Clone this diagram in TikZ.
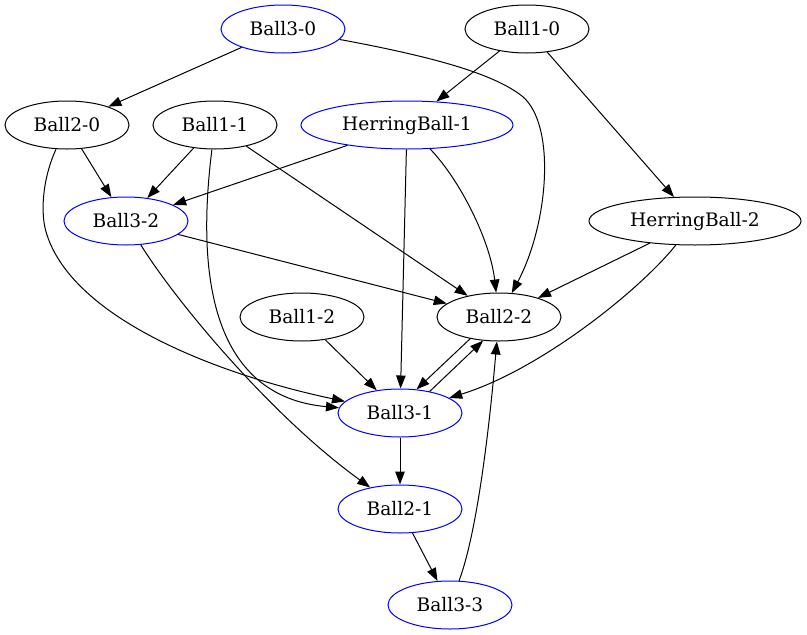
\documentclass[tikz,border=0pt]{standalone}
\usepackage{fontspec}
\setmainfont{DejaVu Serif}
\usetikzlibrary{shapes.geometric,arrows.meta}
\definecolor{gvblue}{RGB}{0,0,255}
\tikzset{
  ball/.style={draw=black, ellipse, line width=1pt, minimum width=124pt, minimum height=48pt, inner sep=0pt, font=\fontsize{18.6}{22}\selectfont},
  bball/.style={ball, draw=gvblue},
  wide/.style={minimum width=212pt},
  edge/.style={line width=1pt, -{Triangle[length=13pt,width=9.5pt]}}
}
\begin{document}
\begin{tikzpicture}[x=1pt,y=-1pt]
\useasboundingbox (0,0) rectangle (807,635);
\node[bball] (b30) at (283,29) {Ball3-0};
\node[ball] (b10) at (527,29) {Ball1-0};
\node[ball] (b20) at (67,125) {Ball2-0};
\node[ball] (b11) at (215,125) {Ball1-1};
\node[bball,wide] (h1) at (407,125) {HerringBall-1};
\node[bball] (b32) at (126,221) {Ball3-2};
\node[ball,wide] (h2) at (695,221) {HerringBall-2};
\node[ball] (b12) at (302,317) {Ball1-2};
\node[ball] (b22) at (499,317) {Ball2-2};
\node[bball] (b31) at (400,413) {Ball3-1};
\node[bball] (b21) at (400,509) {Ball2-1};
\node[bball] (b33) at (450,605) {Ball3-3};

\draw[edge] (b30) -- (b20);
\draw[edge] (b30) .. controls (440,58) and (495,75) .. (522,96) .. controls (557,125) and (548,225) .. (b22);
\draw[edge] (b10) -- (h1);
\draw[edge] (b10) -- (h2);
\draw[edge] (b20) -- (b32);
\draw[edge] (b20) .. controls (42,180) and (40,215) .. (47,235) .. controls (75,320) and (220,375) .. (b31);
\draw[edge] (b11) -- (b32);
\draw[edge] (b11) .. controls (188,340) and (250,400) .. (b31);
\draw[edge] (b11) -- (b22);
\draw[edge] (h1) -- (b32);
\draw[edge] (h1) -- (b31);
\draw[edge] (h1) .. controls (460,180) and (490,240) .. (b22);
\draw[edge] (h2) -- (b22);
\draw[edge] (h2) .. controls (640,290) and (540,370) .. (b31);
\draw[edge] (b32) -- (b22);
\draw[edge] (b32) .. controls (175,300) and (270,415) .. (b21);
\draw[edge] (b12) -- (b31);
\draw[edge] (b22.217) -- (b31.55);
\draw[edge] (b31.36) -- (b22.236);
\draw[edge] (b31) -- (b21);
\draw[edge] (b21) -- (b33);
\draw[edge] (b33) .. controls (478,530) and (490,420) .. (b22);
\end{tikzpicture}
\end{document}
